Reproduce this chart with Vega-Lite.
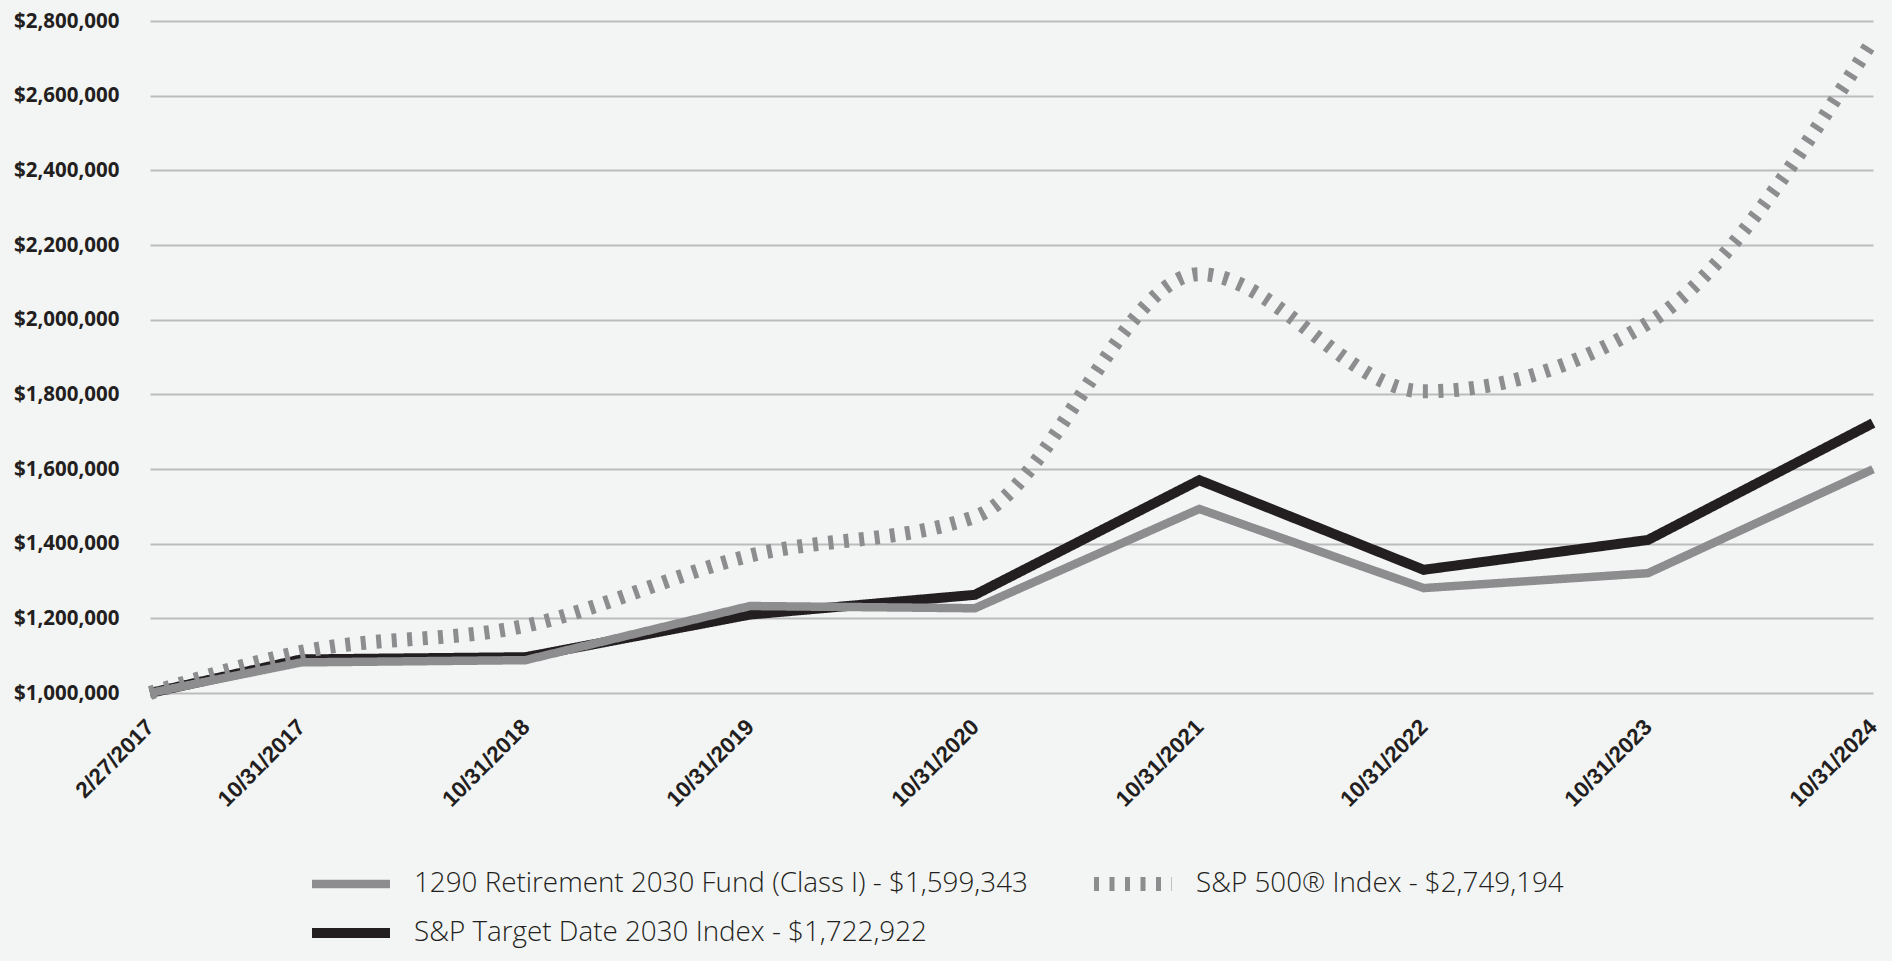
{
  "$schema": "https://vega.github.io/schema/vega-lite/v6.json",
  "width": 1723,
  "height": 672,
  "autosize": {"type": "none"},
  "padding": {"left": 150, "top": 21, "right": 19, "bottom": 268},
  "background": "#f3f4f4",
  "config": {"view": {"stroke": null}, "font": "Open Sans"},
  "data": {
    "values": [
      {"date": "2017-02-27", "series": "S&P Target Date 2030 Index - $1,722,922", "value": 1000000},
      {"date": "2017-10-31", "series": "S&P Target Date 2030 Index - $1,722,922", "value": 1090000},
      {"date": "2018-10-31", "series": "S&P Target Date 2030 Index - $1,722,922", "value": 1096000},
      {"date": "2019-10-31", "series": "S&P Target Date 2030 Index - $1,722,922", "value": 1210000},
      {"date": "2020-10-31", "series": "S&P Target Date 2030 Index - $1,722,922", "value": 1263000},
      {"date": "2021-10-31", "series": "S&P Target Date 2030 Index - $1,722,922", "value": 1570000},
      {"date": "2022-10-31", "series": "S&P Target Date 2030 Index - $1,722,922", "value": 1330000},
      {"date": "2023-10-31", "series": "S&P Target Date 2030 Index - $1,722,922", "value": 1410000},
      {"date": "2024-10-31", "series": "S&P Target Date 2030 Index - $1,722,922", "value": 1722922},
      {"date": "2017-02-27", "series": "1290 Retirement 2030 Fund (Class I) - $1,599,343", "value": 1000000},
      {"date": "2017-10-31", "series": "1290 Retirement 2030 Fund (Class I) - $1,599,343", "value": 1082000},
      {"date": "2018-10-31", "series": "1290 Retirement 2030 Fund (Class I) - $1,599,343", "value": 1088000},
      {"date": "2019-10-31", "series": "1290 Retirement 2030 Fund (Class I) - $1,599,343", "value": 1233000},
      {"date": "2020-10-31", "series": "1290 Retirement 2030 Fund (Class I) - $1,599,343", "value": 1227000},
      {"date": "2021-10-31", "series": "1290 Retirement 2030 Fund (Class I) - $1,599,343", "value": 1493000},
      {"date": "2022-10-31", "series": "1290 Retirement 2030 Fund (Class I) - $1,599,343", "value": 1281000},
      {"date": "2023-10-31", "series": "1290 Retirement 2030 Fund (Class I) - $1,599,343", "value": 1321000},
      {"date": "2024-10-31", "series": "1290 Retirement 2030 Fund (Class I) - $1,599,343", "value": 1599343},
      {"date": "2017-02-27", "series": "S&P 500® Index - $2,749,194", "value": 1000000},
      {"date": "2017-10-31", "series": "S&P 500® Index - $2,749,194", "value": 1110000},
      {"date": "2018-10-31", "series": "S&P 500® Index - $2,749,194", "value": 1180000},
      {"date": "2019-10-31", "series": "S&P 500® Index - $2,749,194", "value": 1368000},
      {"date": "2020-10-31", "series": "S&P 500® Index - $2,749,194", "value": 1472000},
      {"date": "2021-10-31", "series": "S&P 500® Index - $2,749,194", "value": 2122000},
      {"date": "2022-10-31", "series": "S&P 500® Index - $2,749,194", "value": 1808000},
      {"date": "2023-10-31", "series": "S&P 500® Index - $2,749,194", "value": 1991000},
      {"date": "2024-10-31", "series": "S&P 500® Index - $2,749,194", "value": 2749194}
    ]
  },
  "encoding": {
    "x": {
      "field": "date",
      "type": "temporal",
      "scale": {
        "type": "utc",
        "domain": [
          {"year": 2017, "month": 2, "date": 27, "utc": true},
          {"year": 2024, "month": 10, "date": 31, "utc": true}
        ]
      },
      "axis": {
        "title": null,
        "values": [
          {"year": 2017, "month": 2, "date": 27, "utc": true},
          {"year": 2017, "month": 10, "date": 31, "utc": true},
          {"year": 2018, "month": 10, "date": 31, "utc": true},
          {"year": 2019, "month": 10, "date": 31, "utc": true},
          {"year": 2020, "month": 10, "date": 31, "utc": true},
          {"year": 2021, "month": 10, "date": 31, "utc": true},
          {"year": 2022, "month": 10, "date": 31, "utc": true},
          {"year": 2023, "month": 10, "date": 31, "utc": true},
          {"year": 2024, "month": 10, "date": 31, "utc": true}
        ],
        "labelExpr": "utcFormat(datum.value, '%-m/%-d/%Y')",
        "labelAngle": -45,
        "labelAlign": "right",
        "labelBaseline": "middle",
        "labelFont": "Liberation Sans",
        "labelFontWeight": "bold",
        "labelFontSize": 22.5,
        "labelColor": "#231f20",
        "labelPadding": 30,
        "labelOverlap": false,
        "labelBound": false,
        "labelFlush": false,
        "ticks": false,
        "domain": false,
        "grid": false
      }
    },
    "y": {
      "field": "value",
      "type": "quantitative",
      "scale": {"domain": [1000000, 2800000], "nice": false, "zero": false},
      "axis": {
        "title": null,
        "values": [1000000, 1200000, 1400000, 1600000, 1800000, 2000000, 2200000, 2400000, 2600000, 2800000],
        "format": "$,.0f",
        "labelFont": "Open Sans",
        "labelFontWeight": "bold",
        "labelFontSize": 20.5,
        "labelColor": "#231f20",
        "labelPadding": 31,
        "ticks": false,
        "domain": false,
        "grid": true,
        "gridColor": "#bcbcbc",
        "gridWidth": 2.2,
        "labelOverlap": false
      }
    },
    "color": {
      "field": "series",
      "type": "nominal",
      "scale": {
        "domain": ["1290 Retirement 2030 Fund (Class I) - $1,599,343", "S&P 500® Index - $2,749,194", "S&P Target Date 2030 Index - $1,722,922"],
        "range": ["#8d8d8f", "#8d8d8f", "#231f20"]
      },
      "legend": {
        "title": null,
        "orient": "none",
        "direction": "horizontal",
        "legendX": 155,
        "legendY": 846,
        "columns": 2,
        "symbolType": "stroke",
        "symbolSize": 6084,
        "clipHeight": 34,
        "labelFont": "Open Sans",
        "labelFontWeight": 300,
        "labelFontSize": 27.8,
        "labelColor": "#231f20",
        "labelOffset": 17,
        "columnPadding": 59,
        "rowPadding": 15,
        "labelLimit": 1000
      }
    },
    "strokeDash": {
      "field": "series",
      "type": "nominal",
      "scale": {
        "domain": ["1290 Retirement 2030 Fund (Class I) - $1,599,343", "S&P 500® Index - $2,749,194", "S&P Target Date 2030 Index - $1,722,922"],
        "range": [[1, 0], [5, 10.5], [1, 0]]
      }
    },
    "strokeWidth": {
      "field": "series",
      "type": "nominal",
      "scale": {
        "type": "ordinal",
        "domain": ["1290 Retirement 2030 Fund (Class I) - $1,599,343", "S&P 500® Index - $2,749,194", "S&P Target Date 2030 Index - $1,722,922"],
        "range": [8.5, 14, 10]
      }
    }
  },
  "layer": [
    {
      "transform": [{"filter": "datum.series != 'S&P 500® Index - $2,749,194'"}],
      "mark": {"type": "line", "interpolate": "linear", "strokeCap": "butt", "strokeJoin": "miter"}
    },
    {
      "transform": [{"filter": "datum.series == 'S&P 500® Index - $2,749,194'"}],
      "mark": {"type": "line", "interpolate": "monotone", "strokeCap": "butt"}
    }
  ]
}
